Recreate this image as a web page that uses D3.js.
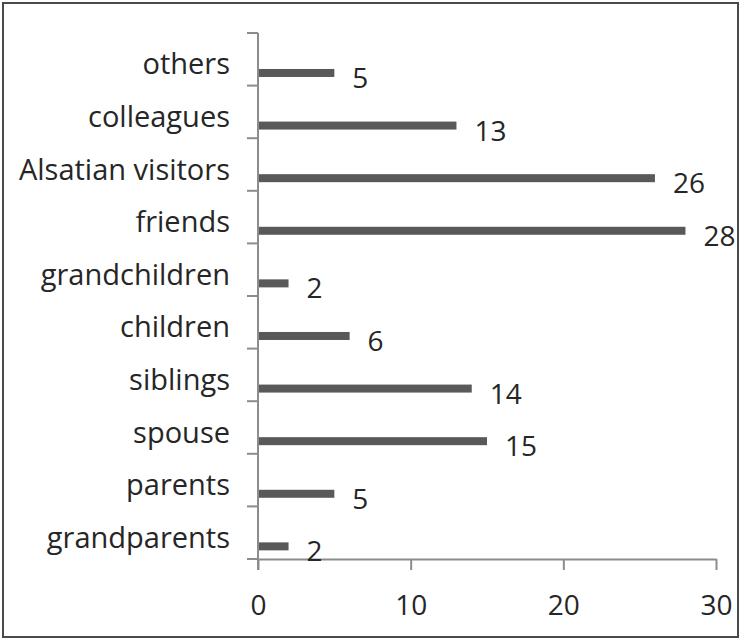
<!DOCTYPE html>
<html>
<head>
<meta charset="utf-8">
<script src="https://cdn.jsdelivr.net/npm/d3@7"></script>
<style>
	body { margin: 0; background: #fff; }
	svg text { font-family: "Open Sans", "Noto Sans", sans-serif; fill: #262626; }
</style>
</head>
<body>
<svg id="chart" width="742" height="640"></svg>
<script>
// categories listed top to bottom
var categories = ['others', 'colleagues', 'Alsatian visitors', 'friends', 'grandchildren',
	'children', 'siblings', 'spouse', 'parents', 'grandparents'];
var counts = [5, 13, 26, 28, 2, 6, 14, 15, 5, 2];
var xTicks = [0, 10, 20, 30];

var svg = d3.select('#chart');

// frame
svg.append('rect')
	.attr('x', 3).attr('y', 3)
	.attr('width', 735).attr('height', 634)
	.attr('fill', 'none')
	.attr('stroke', '#4a4a4a')
	.attr('stroke-width', 2);

var x = d3.scaleLinear().domain([0, 30]).range([258, 716]);
var y = d3.scaleBand().domain(categories).range([33, 559]).paddingInner(0).paddingOuter(0);
var bw = y.bandwidth();

/* Axes */
var boundaries = categories.map(function(c) { return y(c); }).concat([559]);

var yAxis = svg.append('g')
	.attr('transform', 'translate(258,0)');
yAxis.append('line')
	.attr('x1', 0).attr('x2', 0)
	.attr('y1', 33).attr('y2', 570)
	.attr('stroke', '#8c8c8c').attr('stroke-width', 2);
yAxis.selectAll('.ytick')
	.data(boundaries)
	.enter().append('line')
	.attr('class', 'ytick')
	.attr('x1', -11).attr('x2', 0)
	.attr('y1', function(d) { return d; })
	.attr('y2', function(d) { return d; })
	.attr('stroke', '#8c8c8c').attr('stroke-width', 2);

var xAxis = svg.append('g')
	.attr('transform', 'translate(0,559)')
	.call(d3.axisBottom(x).tickValues(xTicks).tickSize(11).tickSizeOuter(0).tickPadding(25));
xAxis.select('.domain').attr('stroke', '#8c8c8c').attr('stroke-width', 2);
xAxis.selectAll('.tick line').attr('stroke', '#8c8c8c').attr('stroke-width', 2);
xAxis.selectAll('.tick text')
	.style('font-size', '28px')
	.style('font-family', '"Open Sans", "Noto Sans", sans-serif')
	.attr('fill', '#262626');

/* Bars */
svg.selectAll('.bar')
	.data(categories)
	.enter().append('rect')
	.attr('class', 'bar')
	.attr('x', x(0) + 1)
	.attr('y', function(d) { return y(d) + bw * 0.76 - 4; })
	.attr('width', function(d, i) { return x(counts[i]) - x(0) - 1; })
	.attr('height', 8)
	.attr('fill', '#595959');

/* Value labels */
svg.selectAll('.val')
	.data(categories)
	.enter().append('text')
	.attr('class', 'val')
	.attr('x', function(d, i) { return x(counts[i]) + 18; })
	.attr('y', function(d) { return y(d) + bw * 0.76 + 4; })
	.attr('dominant-baseline', 'central')
	.style('font-size', '28px')
	.text(function(d, i) { return counts[i]; });

/* Category labels */
svg.selectAll('.cat')
	.data(categories)
	.enter().append('text')
	.attr('class', 'cat')
	.attr('x', 230)
	.attr('y', function(d) { return y(d) + bw * 0.57; })
	.attr('text-anchor', 'end')
	.attr('dominant-baseline', 'central')
	.style('font-size', '29px')
	.text(function(d) { return d; });
</script>
</body>
</html>
